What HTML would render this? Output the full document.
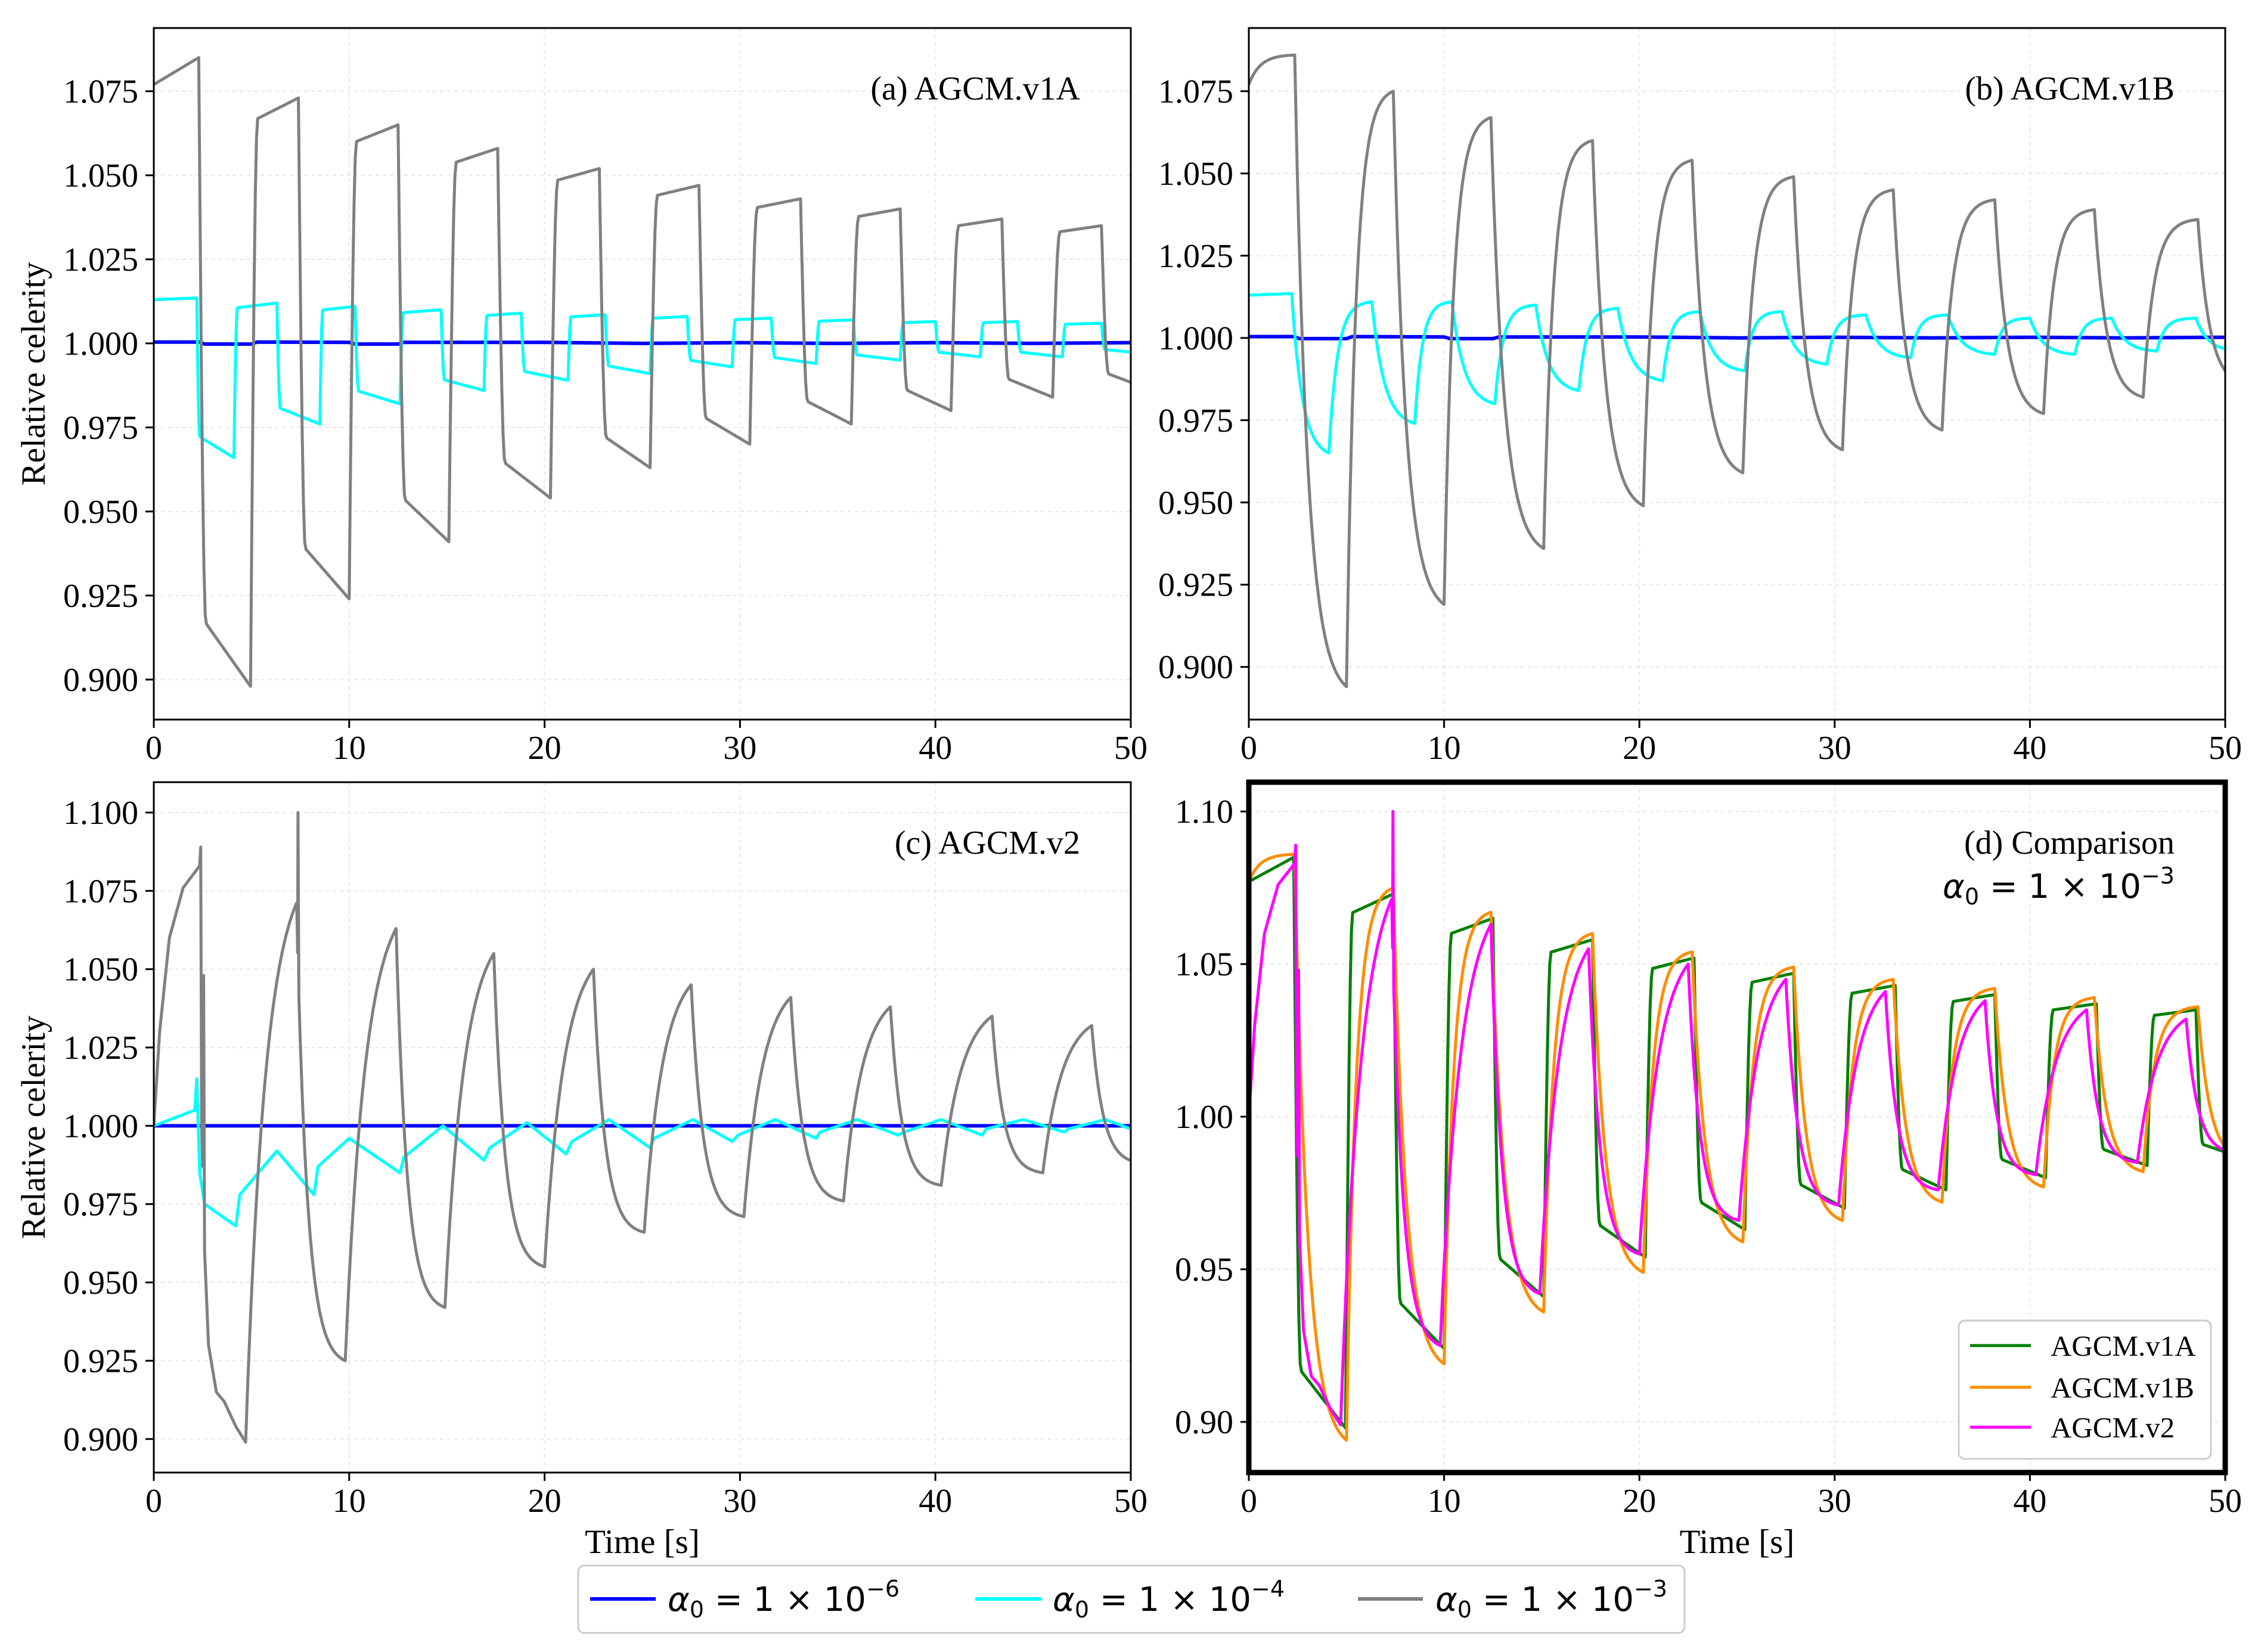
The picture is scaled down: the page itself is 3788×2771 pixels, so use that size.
<!DOCTYPE html>
<html><head><meta charset="utf-8"><style>
html,body{margin:0;padding:0;background:#fff;}
svg{display:block;}
text{font-family:"Liberation Serif",serif;fill:#000;}
.m{font-family:"DejaVu Sans","Liberation Sans",sans-serif;}
</style></head><body>
<svg id="fig" width="3788" height="2771" viewBox="0 0 3788 2771" xmlns="http://www.w3.org/2000/svg">
<g id="root"></g>
<g>
<rect x="970" y="2626" width="1856" height="113" rx="10" fill="#fff" stroke="#ccc" stroke-width="3"/>
<line x1="990" y1="2682" x2="1100" y2="2682" stroke="#0000ff" stroke-width="6"/>
<text class="m" x="1120" y="2702" font-size="56"><tspan font-style="italic">α</tspan><tspan font-size="38" dy="11">0</tspan><tspan dy="-11"> = 1 × 10</tspan><tspan font-size="38" dy="-24">−6</tspan></text>
<line x1="1636" y1="2682" x2="1747" y2="2682" stroke="#00ffff" stroke-width="6"/>
<text class="m" x="1766" y="2702" font-size="56"><tspan font-style="italic">α</tspan><tspan font-size="38" dy="11">0</tspan><tspan dy="-11"> = 1 × 10</tspan><tspan font-size="38" dy="-24">−4</tspan></text>
<line x1="2278" y1="2682" x2="2387" y2="2682" stroke="#808080" stroke-width="6"/>
<text class="m" x="2408" y="2702" font-size="56"><tspan font-style="italic">α</tspan><tspan font-size="38" dy="11">0</tspan><tspan dy="-11"> = 1 × 10</tspan><tspan font-size="38" dy="-24">−3</tspan></text>
</g>
</svg>
<script>
// ---- data ----
const xTicks=[0,10,20,30,40,50];
const yTicksAB=[0.900,0.925,0.950,0.975,1.000,1.025,1.050,1.075];
const yTicksC=[0.900,0.925,0.950,0.975,1.000,1.025,1.050,1.075,1.100];
const yTicksD=[0.90,0.95,1.00,1.05,1.10];
// gray v1A
const aGrayStart=[0,1.077];
const aGrayPeakT=[2.3,7.4,12.5,17.6,22.8,27.9,33.1,38.2,43.4,48.5];
const aGrayPeakV=[1.085,1.073,1.065,1.058,1.052,1.047,1.043,1.040,1.037,1.035];
const aGrayTroughT=[4.95,10.0,15.1,20.3,25.4,30.5,35.7,40.8,46.0,51.1];
const aGrayTroughV=[0.898,0.924,0.941,0.954,0.963,0.970,0.976,0.980,0.984,0.986];
// gray v1B
const bGrayStart=[0,1.077];
const bGrayPeakT=[2.35,7.4,12.4,17.6,22.7,27.9,33.0,38.2,43.3,48.6];
const bGrayPeakV=[1.086,1.075,1.067,1.060,1.054,1.049,1.045,1.042,1.039,1.036];
const bGrayTroughT=[5.0,10.0,15.1,20.2,25.3,30.4,35.5,40.7,45.8,51.0];
const bGrayTroughV=[0.894,0.919,0.936,0.949,0.959,0.966,0.972,0.977,0.982,0.986];
// gray v2
const cGrayPrefix=[[0,1.0],[0.3,1.03],[0.8,1.06],[1.5,1.076],[2.35,1.083],[2.4,1.089],[2.45,1.0],[2.5,0.987],[2.55,1.048],[2.6,0.96],[2.8,0.93],[3.2,0.915],[3.6,0.912],[3.9,0.908],[4.2,0.904],[4.5,0.901]];
const cGrayStart=[4.7,0.899];
const cGrayPeakT=[7.3,12.4,17.4,22.5,27.5,32.6,37.7,42.9,48.0];
const cGrayPeakV=[1.071,1.063,1.055,1.050,1.045,1.041,1.038,1.035,1.032];
const cGrayTroughT=[9.8,14.9,20.0,25.1,30.2,35.3,40.3,45.5,50.6];
const cGrayTroughV=[0.925,0.942,0.955,0.966,0.971,0.976,0.981,0.985,0.988];
const cGraySpikeT=[7.38];
const cGraySpikeV=[1.100];
// cyan
const aCyanStart=[0,1.013];
const aCyanPeakT=[2.2,6.3,10.3,14.7,18.8,23.1,27.3,31.6,35.8,40.0,44.2,48.5];
const aCyanPeakV=[1.0135,1.012,1.011,1.010,1.009,1.0085,1.008,1.0075,1.007,1.0065,1.0065,1.006];
const aCyanTroughT=[4.1,8.5,12.6,16.9,21.2,25.4,29.6,33.9,38.2,42.3,46.5,50.7];
const aCyanTroughV=[0.966,0.976,0.982,0.986,0.989,0.991,0.993,0.994,0.995,0.996,0.996,0.997];
const bCyanStart=[0,1.013];
const bCyanPeakT=[2.2,6.3,10.4,14.7,18.9,23.1,27.3,31.6,35.8,40.0,44.2,48.5];
const bCyanPeakV=[1.0135,1.011,1.011,1.010,1.009,1.008,1.008,1.007,1.007,1.006,1.006,1.006];
const bCyanTroughT=[4.1,8.5,12.6,16.9,21.2,25.4,29.6,33.9,38.2,42.3,46.5,50.7];
const bCyanTroughV=[0.965,0.974,0.980,0.984,0.987,0.990,0.992,0.994,0.995,0.995,0.996,0.996];
const cCyanPts=[[0,1.0],[2.1,1.005],[2.2,1.015],[2.35,0.985],[2.6,0.975],[4.2,0.968],[4.4,0.978],[6.3,0.992],[8.2,0.978],[8.4,0.987],[10.0,0.996],[12.6,0.985],[12.8,0.990],[14.8,1.000],[16.9,0.989],[17.2,0.993],[19.1,1.001],[21.1,0.991],[21.4,0.995],[23.3,1.002],[25.4,0.993],[25.6,0.996],[27.6,1.002],[29.6,0.995],[29.9,0.997],[31.8,1.002],[33.9,0.996],[34.1,0.998],[36.0,1.002],[38.1,0.997],[38.4,0.998],[40.3,1.002],[42.4,0.997],[42.6,0.999],[44.5,1.002],[46.6,0.998],[46.8,0.999],[48.7,1.002],[50,0.999]];
// blue
const abBluePts=[[0,1.0004],[2.3,1.0004],[2.6,0.9998],[5.0,0.9998],[5.3,1.0004],[10,1.0003],[10.3,0.9998],[12.5,0.9998],[12.8,1.0003],[20,1.0003],[25,1.0],[30,1.0002],[35,1.0],[40,1.0002],[45,1.0],[50,1.0002]];
const cBluePts=[[0,1.0],[50,1.0]];

// ---- shapes (styling) ----
function sq(s,j,f){return s<j?f*Math.sin(Math.PI/2*s/j):f+(1-f)*(s-j)/(1-j);}
const SHAPES={
 square:{rise:s=>sq(s,0.15,0.965),fall:s=>sq(s,0.14,0.9)},
 squareC:{rise:s=>sq(s,0.08,0.97),fall:s=>sq(s,0.08,0.87)},
 round:{rise:s=>(1-Math.exp(-5*s))/(1-Math.exp(-5)),fall:s=>(1-Math.exp(-4*s))/(1-Math.exp(-4))},
 roundC:{rise:s=>(1-Math.exp(-5*s))/(1-Math.exp(-5)),fall:s=>(1-Math.exp(-3.5*s))/(1-Math.exp(-3.5))},
 smooth:{rise:s=>(1-Math.exp(-2.5*s))/(1-Math.exp(-2.5)),fall:s=>(1-Math.exp(-4.5*s))/(1-Math.exp(-4.5))}
};
const lin=s=>s;
const easeOut=s=>(1-Math.exp(-4*s))/(1-Math.exp(-4));
function seg(out,t0,v0,t1,v1,f){const n=40;for(let k=1;k<=n;k++){const s=k/n;out.push([t0+(t1-t0)*s,v0+(v1-v0)*f(s)]);}}
function gen(start,pT,pV,tT,tV,shape,firstRise,prefix,spT,spV){
 const sh=SHAPES[shape];let out=prefix?prefix.slice():[];out.push([start[0],start[1]]);
 let ct=start[0],cv=start[1];
 for(let i=0;i<pT.length;i++){seg(out,ct,cv,pT[i],pV[i],i===0&&firstRise?firstRise:sh.rise);seg(out,pT[i],pV[i],tT[i],tV[i],sh.fall);ct=tT[i];cv=tV[i];}
 if(spT){for(let i=0;i<spT.length;i++){out.push([spT[i]-0.06,null]);out.push([spT[i],spV[i]]);}
  out.sort((a,b)=>a[0]-b[0]);
  for(let i=0;i<out.length;i++){if(out[i][1]===null){out[i][1]=out[i-1][1];}}}
 return out;
}
const panels=[
 {id:'a',x0:258,x1:1897,y0:47,y1:1207,vmin:0.8881,vmax:1.0938,ticks:yTicksAB,dec:3,title:'(a) AGCM.v1A',ylab:true,xlab:false,thick:false},
 {id:'b',x0:2095,x1:3733,y0:47,y1:1207,vmin:0.884,vmax:1.0942,ticks:yTicksAB,dec:3,title:'(b) AGCM.v1B',ylab:false,xlab:false,thick:false},
 {id:'c',x0:258,x1:1897,y0:1312,y1:2470,vmin:0.8893,vmax:1.1097,ticks:yTicksC,dec:3,title:'(c) AGCM.v2',ylab:true,xlab:true,thick:false},
 {id:'d',x0:2095,x1:3733,y0:1312,y1:2470,vmin:0.8834,vmax:1.1096,ticks:yTicksD,dec:2,title:'(d) Comparison',ylab:false,xlab:true,thick:true}
];
const grayA=gen(aGrayStart,aGrayPeakT,aGrayPeakV,aGrayTroughT,aGrayTroughV,'square',lin);
const grayB=gen(bGrayStart,bGrayPeakT,bGrayPeakV,bGrayTroughT,bGrayTroughV,'round',easeOut);
const grayC=gen(cGrayStart,cGrayPeakT,cGrayPeakV,cGrayTroughT,cGrayTroughV,'smooth',null,cGrayPrefix,cGraySpikeT,cGraySpikeV);
const cyanA=gen(aCyanStart,aCyanPeakT,aCyanPeakV,aCyanTroughT,aCyanTroughV,'squareC',lin);
const cyanB=gen(bCyanStart,bCyanPeakT,bCyanPeakV,bCyanTroughT,bCyanTroughV,'roundC',lin);
const seriesBy={
 a:[[abBluePts,'#0000ff','series-1e-6'],[cyanA,'#00ffff','series-1e-4'],[grayA,'#808080','series-1e-3']],
 b:[[abBluePts,'#0000ff','series-1e-6'],[cyanB,'#00ffff','series-1e-4'],[grayB,'#808080','series-1e-3']],
 c:[[cBluePts,'#0000ff','series-1e-6'],[cCyanPts,'#00ffff','series-1e-4'],[grayC,'#808080','series-1e-3']],
 d:[[grayA,'#008000','series-agcm-v1a'],[grayB,'#ff8c00','series-agcm-v1b'],[grayC,'#ff00ff','series-agcm-v2']]
};
const NS='http://www.w3.org/2000/svg';
const root=document.getElementById('root');
function mk(tag,attrs,parent){const e=document.createElementNS(NS,tag);for(const k in attrs)e.setAttribute(k,attrs[k]);(parent||root).appendChild(e);return e;}
panels.forEach(p=>{
 const g=mk('g',{});
 
 
 const X=t=>p.x0+(t-0)/(50-0)*(p.x1-p.x0);
 const Y=v=>p.y1-(v-p.vmin)/(p.vmax-p.vmin)*(p.y1-p.y0);
 const defs=mk('defs',{},g);const cp=mk('clipPath',{id:'clip'+p.id},defs);
 mk('rect',{x:p.x0,y:p.y0,width:p.x1-p.x0,height:p.y1-p.y0},cp);
 xTicks.forEach(t=>{const l=mk('line',{x1:X(t),x2:X(t),y1:p.y0,y2:p.y1,stroke:'#e8e8e8','stroke-width':2,'stroke-dasharray':'6,6'},g);
  
  });
 p.ticks.forEach(v=>{const l=mk('line',{x1:p.x0,x2:p.x1,y1:Y(v),y2:Y(v),stroke:'#e8e8e8','stroke-width':2,'stroke-dasharray':'6,6'},g);
  
  });
 seriesBy[p.id].forEach(s=>{
  const d=s[0].map((q,i)=>(i?'L':'M')+X(q[0]).toFixed(1)+','+Y(q[1]).toFixed(1)).join('');
  const path=mk('path',{d:d,fill:'none',stroke:s[1],'stroke-width':p.id==='d'?5:(s[1]==='#0000ff'?6:5),'stroke-linejoin':'round','clip-path':'url(#clip'+p.id+')'},g);
  
  
 });
 const fr=mk('rect',{x:p.x0,y:p.y0,width:p.x1-p.x0,height:p.y1-p.y0,fill:'none',stroke:'#000','stroke-width':p.thick?9:3},g);
 
 
 xTicks.forEach(t=>{mk('line',{x1:X(t),x2:X(t),y1:p.y1,y2:p.y1+14,stroke:'#000','stroke-width':3},g);
  const tx=mk('text',{x:X(t),y:p.y1+66,'font-size':56,'text-anchor':'middle'},g);tx.textContent=t;
  
  });
 p.ticks.forEach(v=>{mk('line',{x1:p.x0-14,x2:p.x0,y1:Y(v),y2:Y(v),stroke:'#000','stroke-width':3},g);
  const tx=mk('text',{x:p.x0-26,y:Y(v)+19,'font-size':56,'text-anchor':'end'},g);tx.textContent=v.toFixed(p.dec);
  
  });
 const ti=mk('text',{x:p.id==='a'||p.id==='c'?1812:3648,y:p.y0+120,'font-size':56,'text-anchor':'end'},g);ti.textContent=p.title;
 
 
 if(p.ylab){const yl=mk('text',{x:0,y:0,'font-size':57,'text-anchor':'middle',transform:'translate(75,'+((p.y0+p.y1)/2)+') rotate(-90)'},g);yl.textContent='Relative celerity';
  
  }
 if(p.xlab){const xl=mk('text',{x:(p.x0+p.x1)/2-0,y:2605,'font-size':57,'text-anchor':'middle'},g);xl.textContent='Time [s]';
  
  }
});
const ann=mk('text',{x:3648,y:1506,'font-size':56,'text-anchor':'end','class':'m'});


ann.innerHTML='<tspan font-style="italic">α</tspan><tspan font-size="38" dy="11">0</tspan><tspan dy="-11"> = 1 × 10</tspan><tspan font-size="38" dy="-24">−3</tspan>';
const lg=mk('g',{});


mk('rect',{x:3286,y:2215,width:423,height:232,rx:10,fill:'#fff',stroke:'#ccc','stroke-width':3},lg);
const lgNames=['AGCM.v1A','AGCM.v1B','AGCM.v2'];const lgCols=['#008000','#ff8c00','#ff00ff'];const lgY=[2257,2327,2394];
lgNames.forEach((n,i)=>{const l=mk('line',{x1:3305,x2:3407,y1:lgY[i],y2:lgY[i],stroke:lgCols[i],'stroke-width':5},lg);
 
 
 const t=mk('text',{x:3440,y:lgY[i]+17,'font-size':49},lg);t.textContent=n;
 
 });
</script>
</body></html>
